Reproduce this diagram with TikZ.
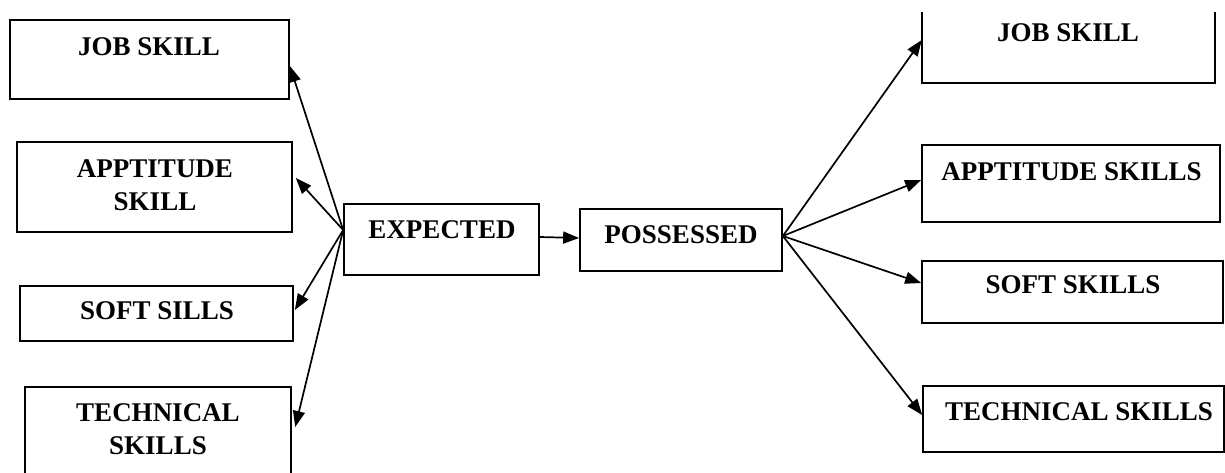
\documentclass[tikz,border=0pt]{standalone}
\usepackage{fontspec}
\setmainfont{Liberation Serif}
\usetikzlibrary{arrows.meta}
\begin{document}
\begin{tikzpicture}[x=1pt,y=-1pt,
  box/.style={draw, line width=1.7pt, inner sep=0pt, rectangle},
  openbox/.style={inner sep=0pt, rectangle},
  lbl/.style={font=\fontsize{27}{33}\selectfont\bfseries, align=center, inner sep=0pt},
  arr/.style={line width=1.7pt, -{Triangle[length=16pt,width=12pt]}}]
\useasboundingbox (0,0) rectangle (1225,473);
% left boxes
\node[box, minimum width=279, minimum height=79] (lj) at (149.5,59.5) {};
\node[lbl] (ljt) at (149,47) {JOB SKILL};
\node[box, minimum width=275, minimum height=90] (la) at (154.5,187) {};
\node[lbl] (lat) at (155,185) {APPTITUDE\\SKILL};
\node[box, minimum width=273, minimum height=55] (ls) at (156.5,313.5) {};
\node[lbl] (lst) at (157,311) {SOFT SILLS};
\node[openbox, minimum width=266, minimum height=86] (lt) at (158,430) {};
\draw[line width=1.7pt] (lt.south west) -- (lt.north west) -- (lt.north east) -- (lt.south east);
\node[lbl] (ltt) at (158,429) {TECHNICAL\\SKILLS};
% middle
\node[box, minimum width=195, minimum height=71] (E) at (441.5,239.5) {};
\node[lbl] (Et) at (442,230) {EXPECTED};
\node[box, minimum width=202, minimum height=62] (P) at (681,240) {};
\node[lbl] (Pt) at (681,235) {POSSESSED};
% right boxes
\node[openbox, minimum width=293, minimum height=71] (rj) at (1068.5,47.5) {};
\draw[line width=1.7pt] (rj.north west) -- (rj.south west) -- (rj.south east) -- (rj.north east);
\node[lbl] (rjt) at (1068,33) {JOB SKILL};
\node[box, minimum width=298, minimum height=77] (ra) at (1071,183.5) {};
\node[lbl] (rat) at (1071.5,172) {APPTITUDE SKILLS};
\node[box, minimum width=301, minimum height=62] (rs) at (1072.5,292) {};
\node[lbl] (rst) at (1073,285) {SOFT SKILLS};
\node[box, minimum width=301, minimum height=66] (rt) at (1073.5,419) {};
\node[lbl] (rtt) at (1079,412) {TECHNICAL SKILLS};
% connectors
\coordinate (ec) at (E.west |- 0,230);
\draw[arr] (ec) -- (lj.east |- 0,66);
\draw[arr] (ec) -- ([xshift=3pt]la.east |- 0,178);
\draw[arr] (ec) -- ([xshift=1pt]ls.east |- 0,310);
\draw[arr] (ec) -- ([xshift=4pt]lt.east |- 0,427);
\draw[arr] (E.east |- 0,237) -- (P.west |- 0,238);
\coordinate (pc) at (P.east |- 0,236);
\draw[arr] (pc) -- (rj.west |- 0,40);
\draw[arr] (pc) -- (ra.west |- 0,180);
\draw[arr] (pc) -- (rs.west |- 0,283);
\draw[arr] (pc) -- (rt.west |- 0,415);
\end{tikzpicture}
\end{document}
